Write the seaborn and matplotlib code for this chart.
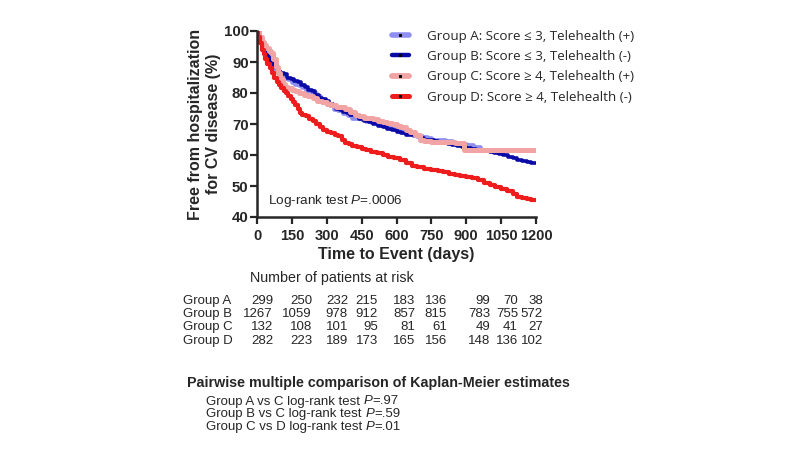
import pandas as pd
import seaborn as sns
import matplotlib.pyplot as plt
from matplotlib.lines import Line2D

# Kaplan-Meier step curves (day, % free from hospitalization)
days_a = [0, 8, 16, 25, 35, 45, 55, 65, 75, 85, 95, 105, 120, 135, 150, 165, 180, 195, 210, 225, 240,
          255, 270, 285, 300, 315, 330, 350, 370, 390, 410, 430, 450, 470, 490, 510, 530, 550, 570,
          590, 610, 630, 650, 670, 690, 710, 730, 750, 780, 810, 840, 870, 900, 930, 960]
surv_a = [100, 98, 96.5, 95, 93.5, 92, 90.5, 89, 88, 87, 86, 85.5, 85, 84.5, 83.5, 83, 82.5, 82, 81,
          80.5, 80, 79, 78, 77, 76.5, 76, 75, 74.5, 73.5, 73, 72, 71.8, 71.5, 71, 70.7, 70.5, 70, 69.5,
          69, 68.5, 68, 67.5, 67, 66.5, 66, 65.8, 65.5, 65, 64.7, 64.5, 64, 63.5, 63.2, 62.7, 62.5]

days_b = [0, 5, 12, 20, 30, 40, 50, 60, 70, 80, 90, 100, 115, 130, 145, 160, 175, 190, 205, 220, 235,
          250, 265, 280, 295, 310, 325, 340, 355, 370, 385, 400, 420, 440, 460, 480, 500, 520, 540,
          560, 580, 600, 620, 640, 660, 680, 700, 720, 740, 760, 780, 800, 820, 840, 860, 880, 900,
          920, 940, 960, 980, 1000, 1020, 1040, 1060, 1080, 1100, 1120, 1140, 1160, 1180, 1200]
surv_b = [100, 98.5, 97, 95.5, 94, 92.5, 91, 90, 89, 88, 87, 86.5, 86, 85, 84.5, 84, 83.5, 82.5, 82,
          81, 80.5, 79.5, 78.5, 78, 77.5, 76.5, 76, 75, 74.5, 74, 73.5, 73, 72.5, 71.5, 71, 70.5, 70,
          69.5, 69, 68.5, 68, 67.5, 67, 66.5, 66.3, 66, 65.5, 65, 64.7, 64.5, 64, 63.8, 63.5, 63.2, 63,
          62.6, 62.3, 62, 61.7, 61.5, 61.3, 61, 60.6, 60.2, 60, 59.5, 59, 58.5, 58, 57.7, 57.5, 57.3]

days_c = [0, 10, 20, 30, 40, 50, 60, 70, 80, 90, 100, 110, 120, 135, 150, 165, 180, 200, 220, 240,
          260, 280, 300, 320, 340, 360, 380, 400, 420, 440, 460, 480, 500, 520, 540, 560, 580, 600,
          620, 640, 660, 680, 700, 720, 750, 800, 850, 890, 1200]
surv_c = [100, 98, 96.5, 95.5, 94.5, 93.5, 93, 91, 88.5, 86.5, 84.5, 83, 82, 81.5, 81, 80.5, 80, 79.5,
          79, 78.5, 77.5, 77, 76.5, 76, 75.5, 75.5, 75, 74, 73, 72.5, 72, 72, 71.5, 71, 70.5, 70.2, 70,
          69.5, 69, 68, 67.5, 66.5, 65, 64.5, 64.3, 64.2, 64, 61.5, 61.5]

days_d = [0, 5, 12, 20, 28, 36, 45, 55, 65, 75, 85, 95, 105, 115, 125, 135, 145, 155, 165, 175, 185,
          195, 210, 225, 240, 255, 270, 285, 300, 320, 335, 350, 365, 380, 395, 410, 430, 450, 470,
          490, 515, 540, 565, 590, 615, 640, 665, 690, 720, 750, 780, 800, 825, 850, 875, 900, 925,
          950, 975, 1000, 1025, 1050, 1075, 1100, 1120, 1140, 1160, 1180, 1200]
surv_d = [100, 98, 96, 94, 92.5, 91, 89.5, 88, 86.5, 85, 83.5, 82.5, 81.5, 80.5, 80, 79, 78, 77, 76,
          75, 73.5, 73, 72.5, 71.5, 71, 70, 69, 68, 67.5, 67, 66.5, 66, 65, 64, 63.5, 63, 62.5, 62,
          61.5, 61, 60.5, 60, 59.5, 59, 58.5, 57.5, 56.5, 56, 55.5, 55.3, 55, 54.5, 54, 53.5, 53.2, 53,
          52.5, 52, 51, 50.3, 49.8, 49, 48.5, 47.5, 46.5, 46.2, 45.8, 45.6, 45.5]

group_labels = ["Group A: Score \u2264 3, Telehealth (+)",
                "Group B: Score \u2264 3, Telehealth (-)",
                "Group C: Score \u2265 4, Telehealth (+)",
                "Group D: Score \u2265 4, Telehealth (-)"]
group_colors = ["#8f8ff2", "#0a0aa6", "#f2a3a3", "#ee1c1c"]
group_widths = [3.4, 2.6, 3.6, 3.0]

# numbers at risk table
risk_rows = ["Group A", "Group B", "Group C", "Group D"]
risk_a = [299, 250, 232, 215, 183, 136, 99, 70, 38]
risk_b = [1267, 1059, 978, 912, 857, 815, 783, 755, 572]
risk_c = [132, 108, 101, 95, 81, 61, 49, 41, 27]
risk_d = [282, 223, 189, 173, 165, 156, 148, 136, 102]

pairwise = [("Group A vs C", ".97"), ("Group B vs C", ".59"), ("Group C vs D", ".01")]

frames = []
for lab, d, s in zip(group_labels, [days_a, days_b, days_c, days_d],
                     [surv_a, surv_b, surv_c, surv_d]):
    frames.append(pd.DataFrame({"day": d, "surv": s, "group": lab}))
df = pd.concat(frames, ignore_index=True)

sns.set_style("ticks")
plt.rcParams["font.family"] = ["Liberation Sans", "DejaVu Sans"]
plt.rcParams["mathtext.fontset"] = "custom"
plt.rcParams["mathtext.rm"] = "Liberation Sans"
plt.rcParams["mathtext.it"] = "Liberation Sans:italic"

fig = plt.figure(figsize=(8, 4.5), dpi=100)
ax = fig.add_axes([257 / 800, 1 - 217 / 450, (536 - 257) / 800, (217 - 31) / 450])

for lab, col, lw in zip(group_labels, group_colors, group_widths):
    sns.lineplot(data=df[df["group"] == lab], x="day", y="surv", ax=ax, color=col, lw=lw,
                 drawstyle="steps-post", estimator=None, sort=False, legend=False)

ax.set_xlim(0, 1200)
ax.set_ylim(40, 100)
ax.set_xticks(range(0, 1201, 150))
ax.set_yticks(range(40, 101, 10))
for sp in ["top", "right"]:
    ax.spines[sp].set_visible(False)
for sp in ["left", "bottom"]:
    ax.spines[sp].set_linewidth(1.8)
ax.tick_params(width=1.6, length=5, direction="out")
ax.tick_params(axis="y", pad=1)
for t in ax.get_yticklabels():
    t.set_fontweight("bold")
    t.set_fontsize(10.8)
for t in ax.get_xticklabels():
    t.set_fontweight("bold")
    t.set_fontsize(10.5)
    t.set_family(["Liberation Sans Narrow", "Liberation Sans"])
ax.set_xlabel("Time to Event (days)", fontweight="bold", fontsize=11.5, labelpad=3)
ax.set_ylabel("Free from hospitalization\nfor CV disease (%)", fontweight="bold", fontsize=11.5,
              labelpad=2, linespacing=1.2)

ax.text(0.04, 0.07, "Log-rank test $\\it{P}$=.0006", transform=ax.transAxes, fontsize=9.7)

handles = [Line2D([0], [0], color=c, lw=w + 0.6, marker="s", markersize=1.2,
                  markerfacecolor="black", markeredgecolor="black")
           for c, w in zip(group_colors, group_widths)]
ax.legend(handles, group_labels, loc="upper left", bbox_to_anchor=(385 / 800, 1 - 23 / 450),
          bbox_transform=fig.transFigure, frameon=False, handlelength=1.3, handletextpad=1.35,
          labelspacing=0.55, borderpad=0, prop={"family": ["Open Sans", "DejaVu Sans"], "size": 9.6})

# numbers at risk
fig.text(250 / 800, 1 - 278 / 450, "Number of patients at risk", fontsize=10.3, va="center")
col_right = [273, 312, 348, 378, 415, 447, 490, 518, 543]
for i, (name, row) in enumerate(zip(risk_rows, [risk_a, risk_b, risk_c, risk_d])):
    y = 1 - (301 + 13.2 * i) / 450
    fig.text(183 / 800, y, name, fontsize=9.5, va="center")
    for xr, v in zip(col_right, row):
        fig.text(xr / 800, y, str(v), fontsize=9.5, va="center", ha="right")

fig.text(187 / 800, 1 - 383 / 450, "Pairwise multiple comparison of Kaplan-Meier estimates",
         fontsize=10.3, fontweight="bold", va="center")
# pairwise lines: plain text, then italic P, then the value, chained on one baseline
for i, (pair, p) in enumerate(pairwise):
    yb = 1 - (404.5 + 12.8 * i) / 450
    t1 = fig.text(206 / 800, yb, pair + " log-rank test", fontsize=9.5, va="baseline")
    t2 = ax.annotate("P", xy=(1, yb), xycoords=(t1, fig.transFigure), xytext=(2.6, 0),
                     textcoords="offset points", fontsize=9.5, style="italic", va="baseline",
                     annotation_clip=False)
    ax.annotate("=" + p, xy=(1, yb), xycoords=(t2, fig.transFigure), fontsize=9.5,
                va="baseline", annotation_clip=False)

fig.savefig("out.png", dpi=100)
